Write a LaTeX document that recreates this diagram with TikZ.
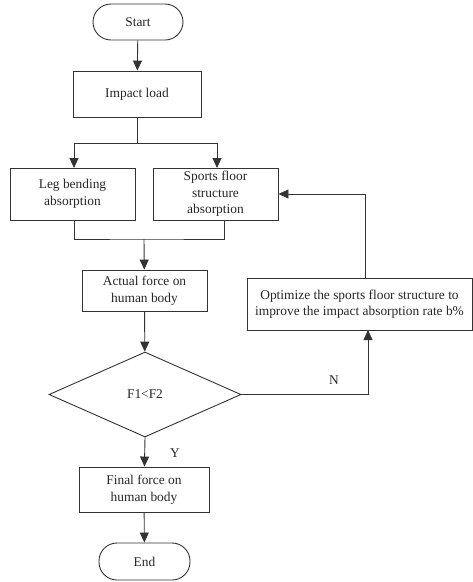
\documentclass[tikz,border=0pt]{standalone}
\usepackage{fontspec}
\setmainfont{Liberation Serif}
\usetikzlibrary{shapes.geometric,arrows.meta}
\begin{document}
\begin{tikzpicture}[x=1pt,y=-1pt,
  every node/.style={font=\fontsize{13.4}{16.5}\selectfont, text=black!85},
  box/.style={draw=black!80, line width=0.9pt, rectangle, inner sep=0pt, align=center},
  term/.style={draw=black!80, line width=0.9pt, rectangle, rounded corners=18pt, inner sep=0pt},
  arr/.style={draw=black!80, line width=0.9pt, -{Triangle[length=10pt,width=9pt]}},
  ln/.style={draw=black!80, line width=0.9pt}]
\useasboundingbox (0,0) rectangle (473,582);
\node[term, minimum width=90pt, minimum height=36pt] (start) at (138,22) {Start};
\node[box, minimum width=128pt, minimum height=46pt] (impact) at (137,94) {Impact load};
\node[box, minimum width=125pt, minimum height=52pt] (leg) at (72.5,194) {Leg bending\\absorption};
\node[box, minimum width=125pt, minimum height=52pt] (sports) at (215.5,194) {Sports floor\\structure\\absorption};
\node[box, minimum width=125pt, minimum height=41pt] (actual) at (144.5,290.5) {Actual force on\\human body};
\node[draw=black!80, line width=0.9pt, diamond, aspect=2.26, minimum width=192pt, minimum height=85pt, inner sep=0pt] (dec) at (145,394.5) {F1<F2};
\node[box, minimum width=225pt, minimum height=52pt] (opt) at (359.5,304) {Optimize the sports floor structure to\\improve the impact absorption rate b\%};
\node[box, minimum width=130pt, minimum height=45pt] (final) at (144,489.5) {Final force on\\human body};
\node[term, minimum width=91pt, minimum height=37pt] (end) at (144.5,561.5) {End};
\coordinate (split) at (137,143);
\coordinate (merge) at (144,239);
\draw[arr] (start) -- (impact);
\draw[ln] (impact.south) -- (split);
\draw[arr] (split) -| (74,168);
\draw[arr] (split) -| (217,168);
\draw[ln] (74,220) |- (merge) -| (224,220);
\draw[arr] (merge) -- (actual);
\draw[arr] (actual) -- (dec);
\draw[arr] (dec.east) -| (368,330);
\draw[arr] (365,278) |- (sports.east);
\draw[arr] (dec.south) -- (final);
\draw[arr] (final) -- (end);
\node (n) at (334,380) {N};
\node (y) at (175,453) {Y};
\end{tikzpicture}
\end{document}
